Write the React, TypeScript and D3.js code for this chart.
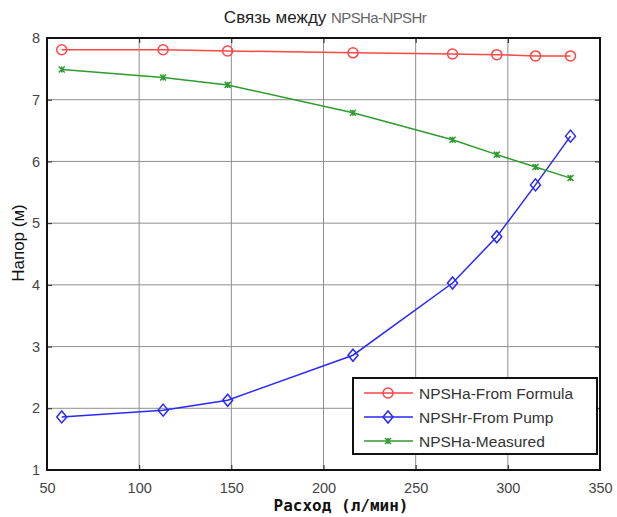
import React, { useEffect, useRef } from "react";
import * as d3 from "d3";

const flow = [58, 113, 148, 216, 270, 294, 315, 334];
const formula = [7.81, 7.81, 7.79, 7.76, 7.74, 7.73, 7.71, 7.71];
const pump = [1.86, 1.97, 2.13, 2.86, 4.03, 4.78, 5.62, 6.41];
const measured = [7.49, 7.36, 7.24, 6.79, 6.35, 6.11, 5.91, 5.73];

const xTicks = [50, 100, 150, 200, 250, 300, 350];
const yTicks = [1, 2, 3, 4, 5, 6, 7, 8];

const seriesNames = ["NPSHa-From Formula", "NPSHr-From Pump", "NPSHa-Measured"];
const seriesColors = ["#ff4646", "#2828ff", "#2f9a2f"];
const seriesMarkers = ["circle", "diamond", "star"];

export default function App() {
    const ref = useRef<SVGSVGElement>(null);

    useEffect(() => {
        document.body.style.margin = "0";
        const svg = d3.select(ref.current);
        svg.selectAll("*").remove();

        const left = 47, right = 600, top = 38, bottom = 470;

        const x = d3.scaleLinear().domain([50, 350]).range([left, right]);
        const y = d3.scaleLinear().domain([1, 8]).range([bottom, top]);

        // grid
        const grid = svg.append("g");
        grid.selectAll(".gx")
            .data(xTicks.slice(1, -1))
            .join("line")
            .attr("x1", d => x(d)).attr("x2", d => x(d))
            .attr("y1", top).attr("y2", bottom)
            .attr("stroke", "#8e8e8e").attr("stroke-width", 1);
        grid.selectAll(".gy")
            .data(yTicks.slice(1, -1))
            .join("line")
            .attr("x1", left).attr("x2", right)
            .attr("y1", d => y(d)).attr("y2", d => y(d))
            .attr("stroke", "#8e8e8e").attr("stroke-width", 1);

        // axes with inward ticks
        const fontFam = "'Liberation Sans', Arial, sans-serif";
        const fmt = d3.format("d");
        const xa = svg.append("g")
            .attr("transform", `translate(0,${bottom})`)
            .call(d3.axisBottom(x).tickValues(xTicks).tickFormat(fmt).tickSize(-5).tickPadding(13).tickSizeOuter(0));
        const xaTop = svg.append("g")
            .attr("transform", `translate(0,${top})`)
            .call(d3.axisTop(x).tickValues(xTicks).tickSize(-5).tickFormat(() => "").tickSizeOuter(0));
        const ya = svg.append("g")
            .attr("transform", `translate(${left},0)`)
            .call(d3.axisLeft(y).tickValues(yTicks).tickFormat(fmt).tickSize(-5).tickPadding(7).tickSizeOuter(0));
        const yaRight = svg.append("g")
            .attr("transform", `translate(${right},0)`)
            .call(d3.axisRight(y).tickValues(yTicks).tickSize(-5).tickFormat(() => "").tickSizeOuter(0));

        [xa, xaTop, ya, yaRight].forEach(a => {
            a.select(".domain").remove();
            a.selectAll("line").attr("stroke", "#222");
            a.selectAll("text")
                .attr("fill", "#444")
                .style("font-family", fontFam)
                .style("font-size", "14.5px");
        });

        svg.append("rect")
            .attr("x", left).attr("y", top)
            .attr("width", right - left).attr("height", bottom - top)
            .attr("fill", "none").attr("stroke", "#111").attr("stroke-width", 2);

        const allSeries = [formula, pump, measured];
        const line = d3.line<number>()
            .x((d, i) => x(flow[i]))
            .y(d => y(d));

        const drawMarker = (g: any, kind: string, color: string, cx: number, cy: number) => {
            if (kind === "circle") {
                g.append("circle").attr("cx", cx).attr("cy", cy).attr("r", 5)
                    .attr("fill", "none").attr("stroke", color).attr("stroke-width", 1.5);
            } else if (kind === "diamond") {
                g.append("path")
                    .attr("d", `M${cx},${cy - 6}L${cx + 5},${cy}L${cx},${cy + 6}L${cx - 5},${cy}Z`)
                    .attr("fill", "none").attr("stroke", color).attr("stroke-width", 1.5);
            } else {
                g.append("path")
                    .attr("d", `M${cx - 3},${cy - 3}L${cx + 3},${cy + 3}M${cx - 3},${cy + 3}L${cx + 3},${cy - 3}M${cx},${cy - 3}L${cx},${cy + 3}`)
                    .attr("fill", "none").attr("stroke", color).attr("stroke-width", 1.5);
            }
        };

        allSeries.forEach((vals, k) => {
            const g = svg.append("g");
            g.append("path")
                .datum(vals)
                .attr("d", line)
                .attr("fill", "none")
                .attr("stroke", seriesColors[k])
                .attr("stroke-width", 1.5);
            vals.forEach((v, i) => drawMarker(g, seriesMarkers[k], seriesColors[k], x(flow[i]), y(v)));
        });

        // legend
        const lg = svg.append("g");
        lg.append("rect")
            .attr("x", 353).attr("y", 378).attr("width", 244).attr("height", 76)
            .attr("fill", "#fff").attr("stroke", "#111").attr("stroke-width", 2);
        seriesNames.forEach((name, k) => {
            const ly = 393 + k * 24;
            lg.append("line")
                .attr("x1", 364).attr("x2", 413).attr("y1", ly).attr("y2", ly)
                .attr("stroke", seriesColors[k]).attr("stroke-width", 1.5);
            drawMarker(lg, seriesMarkers[k], seriesColors[k], 388, ly);
            lg.append("text")
                .attr("x", 419).attr("y", ly + 5.5)
                .attr("fill", "#333")
                .style("font-family", fontFam)
                .style("font-size", "15.5px")
                .text(name);
        });

        // title
        const title = svg.append("text")
            .attr("x", 325).attr("y", 23)
            .attr("text-anchor", "middle")
            .style("font-family", fontFam);
        title.append("tspan")
            .attr("fill", "#222")
            .style("font-size", "17px")
            .text("Связь между ");
        title.append("tspan")
            .attr("fill", "#666")
            .style("font-size", "15px")
            .attr("letter-spacing", "-0.6")
            .text("NPSHa-NPSHr");

        svg.append("text")
            .attr("x", 341).attr("y", 511)
            .attr("text-anchor", "middle")
            .attr("fill", "#111")
            .style("font-family", "'DejaVu Sans Mono', monospace")
            .style("font-weight", "bold")
            .style("font-size", "16px")
            .text("Расход (л/мин)");

        svg.append("text")
            .attr("transform", `translate(24,${(top + bottom) / 2 - 11}) rotate(-90)`)
            .attr("text-anchor", "middle")
            .attr("fill", "#111")
            .style("font-family", fontFam)
            .style("font-size", "17px")
            .text("Напор (м)");
    }, []);

    return <svg ref={ref} width={617} height={517} style={{ display: "block", background: "#fff" }} />;
}
